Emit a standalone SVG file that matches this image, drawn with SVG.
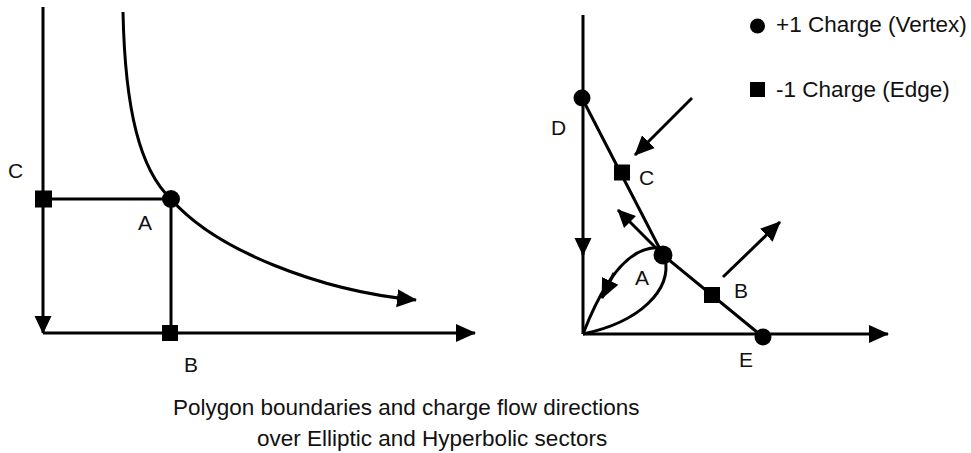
<svg xmlns="http://www.w3.org/2000/svg" width="971" height="453" viewBox="0 0 971 453">
<style>
  .ln { fill: none; stroke: #000; stroke-width: 3; stroke-linecap: butt; stroke-linejoin: miter; }
  .dot { fill: #000; }
  .sq { fill: #000; }
  .lbl { font-family: "Liberation Sans", Arial, sans-serif; font-size: 21px; fill: #111; }
  .txt { font-family: "Liberation Sans", Arial, sans-serif; font-size: 22.5px; fill: #111; }
</style>
<defs>
  <marker id="arr" markerUnits="userSpaceOnUse" viewBox="0 0 20 20" markerWidth="20" markerHeight="20" refX="19" refY="10" orient="auto">
    <path d="M0,1 L20,10 L0,19 z" fill="#000"/>
  </marker>
  <marker id="arrS" markerUnits="userSpaceOnUse" viewBox="0 0 18 18" markerWidth="18" markerHeight="18" refX="17" refY="9" orient="auto">
    <path d="M0,0.5 L18,9 L0,17.5 z" fill="#000"/>
  </marker>
</defs>
<rect width="971" height="453" fill="#fff"/>

<g id="connectors">
  <!-- left panel -->
  <path class="ln" d="M43,7 L43,333" marker-end="url(#arrS)"/>
  <path class="ln" d="M43,333 L475,333" marker-end="url(#arr)"/>
  <path class="ln" d="M43,199 L171,199"/>
  <path class="ln" d="M171,199 L171,333"/>
  <path class="ln" d="M123,12 C125,110 140,170 171,199 C215,250 320,291 416,300" marker-end="url(#arr)"/>
  <!-- right panel -->
  <path class="ln" d="M583,15 L583,255" marker-end="url(#arrS)"/>
  <path class="ln" d="M583,250 L583,334"/>
  <path class="ln" d="M583,334 L888,334" marker-end="url(#arr)"/>
  <path class="ln" d="M582,98 L663,255 L763,337"/>
  <path class="ln" d="M692,98 L635,155" marker-end="url(#arr)"/>
  <path class="ln" d="M723,277 L780,222" marker-end="url(#arr)"/>
  <path class="ln" d="M663,255 L618,210" marker-end="url(#arrS)"/>
  <path class="ln" d="M660,248 C625,245 600,290 583,334"/>
  <path class="ln" d="M665,258 C672,290 640,322 583,334"/>
  <path class="ln" d="M614,273 L602,298" marker-end="url(#arr)"/>
</g>

<g id="left-C">
  <rect class="sq" x="35" y="190.5" width="17" height="17"/>
  <text class="lbl" x="8" y="178">C</text>
</g>
<g id="left-A">
  <circle class="dot" cx="171" cy="199" r="9"/>
  <text class="lbl" x="138" y="230">A</text>
</g>
<g id="left-B">
  <rect class="sq" x="162" y="325" width="16" height="16"/>
  <text class="lbl" x="184" y="372">B</text>
</g>

<g id="right-D">
  <circle class="dot" cx="582" cy="98" r="8.5"/>
  <text class="lbl" x="551" y="135">D</text>
</g>
<g id="right-C">
  <rect class="sq" x="614" y="164.5" width="16" height="16"/>
  <text class="lbl" x="639" y="185">C</text>
</g>
<g id="right-A">
  <circle class="dot" cx="663" cy="255" r="9.5"/>
  <text class="lbl" x="635" y="285">A</text>
</g>
<g id="right-B">
  <rect class="sq" x="704" y="287" width="16" height="16"/>
  <text class="lbl" x="734" y="298">B</text>
</g>
<g id="right-E">
  <circle class="dot" cx="763" cy="337" r="8.5"/>
  <text class="lbl" x="739" y="367">E</text>
</g>

<g id="legend">
  <circle class="dot" cx="757.5" cy="26" r="7.5"/>
  <text class="txt" x="776" y="32">+1 Charge (Vertex)</text>
  <rect class="sq" x="750" y="82" width="15" height="15"/>
  <text class="txt" x="776" y="97">-1 Charge (Edge)</text>
</g>

<g id="caption">
  <text class="txt" x="173" y="415">Polygon boundaries and charge flow directions</text>
  <text class="txt" x="257" y="446">over Elliptic and Hyperbolic sectors</text>
</g>
</svg>
